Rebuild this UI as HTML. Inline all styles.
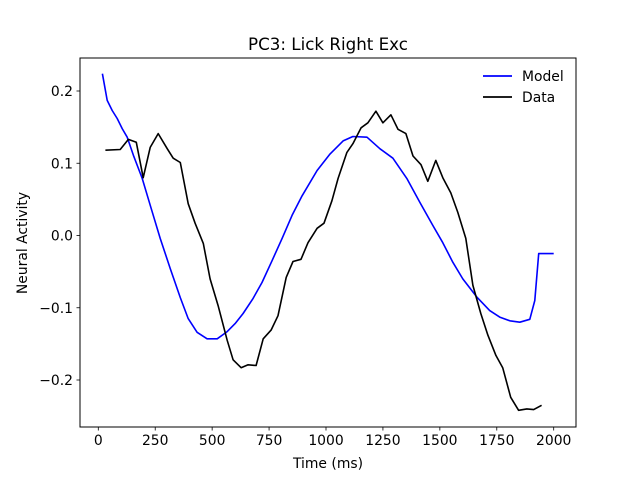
<!DOCTYPE html>
<html><head><meta charset="utf-8"><style>
body{margin:0;background:#fff}
svg{display:block;font-family:"DejaVu Sans","Liberation Sans",sans-serif}
</style></head><body>
<svg id="chart" width="640" height="480" viewBox="0 0 640 480" xmlns="http://www.w3.org/2000/svg">
<rect width="640" height="480" fill="#fff"/>
<text x="328" y="50" font-size="16.7" text-anchor="middle">PC3: Lick Right Exc</text>
<g id="xt"></g>
<g id="yt"></g>
<text x="328" y="468" font-size="13.9" text-anchor="middle">Time (ms)</text>
<text transform="translate(27,243) rotate(-90)" font-size="13.9" text-anchor="middle">Neural Activity</text>
<g id="series"></g>
<rect x="80" y="58" width="496" height="369" fill="none" stroke="#000" stroke-width="1"/>
<g>
<line x1="483" y1="76" x2="512" y2="76" stroke="#0000ff" stroke-width="1.8"/>
<text x="522" y="81" font-size="13.9">Model</text>
<line x1="483" y1="97" x2="512" y2="97" stroke="#000" stroke-width="1.8"/>
<text x="522" y="102" font-size="13.9">Data</text>
</g>
</svg>
<script>
const xTicks=[0,250,500,750,1000,1250,1500,1750,2000];
const yTicks=[-0.2,-0.1,0.0,0.1,0.2];
const yTickLabels=["\u22120.2","\u22120.1","0.0","0.1","0.2"];
const modelT=[18,39,61,83,105,127,154,193,228,272,316,360,395,434,478,522,566,601,636,680,719,763,807,851,895,961,1018,1075,1118,1180,1237,1294,1355,1412,1469,1513,1557,1601,1662,1719,1763,1807,1851,1895,1917,1934,2000];
const modelV=[0.224,0.187,0.173,0.162,0.148,0.136,0.111,0.079,0.042,-0.004,-0.046,-0.086,-0.115,-0.134,-0.143,-0.143,-0.133,-0.122,-0.108,-0.087,-0.065,-0.035,-0.004,0.028,0.055,0.09,0.113,0.131,0.137,0.136,0.12,0.107,0.079,0.046,0.014,-0.01,-0.037,-0.06,-0.085,-0.104,-0.113,-0.118,-0.12,-0.116,-0.09,-0.025,-0.025];
const dataT=[31,96,132,167,197,228,263,303,329,360,395,425,461,491,526,566,592,627,658,693,724,759,789,825,855,890,921,961,991,1026,1053,1092,1118,1154,1184,1219,1250,1285,1316,1351,1382,1417,1447,1482,1513,1548,1579,1614,1645,1680,1711,1746,1776,1811,1846,1882,1912,1947];
const dataV=[0.118,0.119,0.133,0.129,0.08,0.122,0.141,0.12,0.107,0.101,0.044,0.017,-0.011,-0.06,-0.097,-0.145,-0.172,-0.183,-0.179,-0.18,-0.143,-0.131,-0.111,-0.058,-0.036,-0.033,-0.01,0.01,0.017,0.048,0.079,0.115,0.127,0.149,0.156,0.172,0.156,0.167,0.147,0.141,0.11,0.098,0.075,0.104,0.08,0.059,0.032,-0.004,-0.069,-0.108,-0.138,-0.166,-0.183,-0.224,-0.242,-0.24,-0.241,-0.235];
const X=t=>98.3+t*0.2277;
const Y=v=>235.5-v*722.5;
const NS="http://www.w3.org/2000/svg";
function mk(tag,attrs,parent){const e=document.createElementNS(NS,tag);for(const k in attrs)e.setAttribute(k,attrs[k]);parent.appendChild(e);return e;}
const xt=document.getElementById('xt'),yt=document.getElementById('yt'),sg=document.getElementById('series');
xTicks.forEach(t=>{
  const l=mk('line',{x1:X(t),x2:X(t),y1:427,y2:430.5,stroke:'#000','stroke-width':0.8},xt);
  
  
  const tx=mk('text',{x:X(t),y:445,'font-size':13.9,'text-anchor':'middle'},xt);
  tx.textContent=t;
  
  
});
yTicks.forEach((v,i)=>{
  const l=mk('line',{x1:76.5,x2:80,y1:Y(v),y2:Y(v),stroke:'#000','stroke-width':0.8},yt);
  
  
  const tx=mk('text',{x:73,y:Y(v)+5,'font-size':13.9,'text-anchor':'end'},yt);
  tx.textContent=yTickLabels[i];
  
  
});
function line(ts,vs,color,name){
  const d=ts.map((t,i)=>(i?'L':'M')+X(t).toFixed(1)+','+Y(vs[i]).toFixed(1)).join(' ');
  const p=mk('path',{d:d,fill:'none',stroke:color,'stroke-width':1.6,'stroke-linejoin':'round'},sg);
  
  
}
line(modelT,modelV,'#0000ff','model-line');
line(dataT,dataV,'#000000','data-line');
</script>
</body></html>
